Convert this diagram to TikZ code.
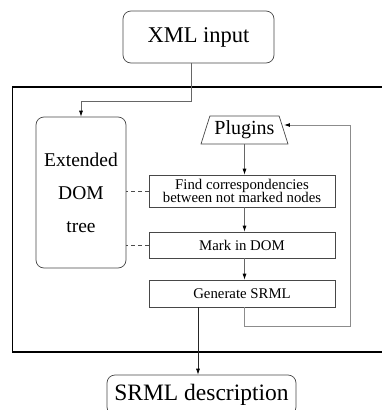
\documentclass[tikz,border=0pt]{standalone}
\usepackage{fontspec}
\setmainfont{Liberation Serif}
\usetikzlibrary{shapes.geometric,arrows.meta,calc}
\begin{document}
\begin{tikzpicture}[x=1pt,y=-1pt,
  boxline/.style={draw=black!72,line width=0.7pt},
  bigbox/.style={boxline,rounded corners=8pt,inner sep=0pt},
  stepbox/.style={boxline,rectangle,minimum width=186pt,inner sep=0pt,align=center,
     font=\fontsize{14.8}{13.5}\selectfont},
  arr/.style={draw=black!60,line width=0.7pt,-{Latex[length=6pt,width=4pt,color=black]}},
  loopline/.style={draw=black!45,line width=0.9pt,-{Latex[length=6pt,width=4pt,color=black]}},
  dashline/.style={draw=black!70,line width=0.6pt,dash pattern=on 4pt off 3pt}
]
\clip (0,0) rectangle (382,410);
\fill[white] (0,0) rectangle (382,410);
% outer frame
\draw[line width=1.3pt] (395,87) -- (12.5,87) -- (12.5,352) -- (395,352);
% nodes
\node[bigbox,minimum width=151pt,minimum height=52pt,font=\fontsize{22.5}{24}\selectfont] (xml) at (198.5,37) {XML input};
\node[bigbox,minimum width=90pt,minimum height=151pt,align=center,font=\fontsize{19.5}{33}\selectfont] (dom) at (81,192.5) {Extended\\DOM\\tree};
\node[boxline,trapezium,trapezium left angle=64,trapezium right angle=64,trapezium stretches body,
  minimum width=87pt,minimum height=28pt,inner sep=0pt,font=\fontsize{20}{22}\selectfont] (plugins) at (244.5,130) {Plugins};
\node[stepbox,minimum height=32pt] (find) at (242,191) {Find correspondencies\\between not marked nodes};
\node[stepbox,minimum height=26pt] (mark) at (242,245) {Mark in DOM};
\node[stepbox,minimum height=27pt] (gen) at (242,293.5) {Generate SRML};
\node[bigbox,minimum width=189pt,minimum height=40pt,font=\fontsize{23.5}{26}\selectfont] (srml) at (201.5,395) {SRML description};
% connectors
\draw[arr] ([xshift=-7.5pt]xml.south) -- ++(0,38) -| (dom.north);
\draw[arr] (plugins.south) -- (plugins.south |- find.north);
\draw[arr] (find.south -| plugins.south) -- (plugins.south |- mark.north);
\draw[arr] (mark.south -| plugins.south) -- (plugins.south |- gen.north);
\coordinate (lp) at (350,125);
\draw[loopline] (gen.south -| plugins.south) |- (lp |- 0,326) -- (lp) -- (plugins.east |- lp);
\draw[dashline] (find.west) -- (find.west -| dom.east);
\draw[dashline] (mark.west) -- (mark.west -| dom.east);
\draw[draw=black!85,line width=0.7pt,-{Latex[length=6pt,width=4pt,color=black]}] ([xshift=-44pt]gen.south) -- ([xshift=-44pt]gen.south |- srml.north);
\end{tikzpicture}
\end{document}
